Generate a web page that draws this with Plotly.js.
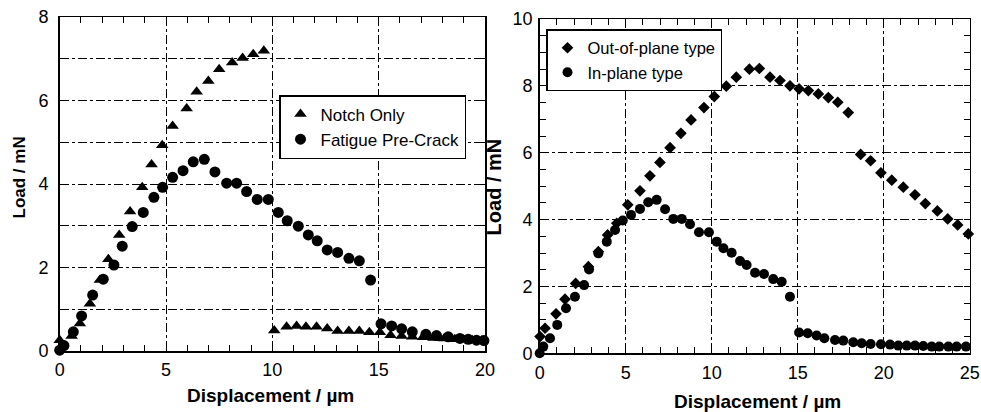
<!DOCTYPE html>
<html>
<head>
<meta charset="utf-8">
<script src="https://cdn.plot.ly/plotly-3.0.1.min.js"></script>
<style>html,body{margin:0;padding:0;background:#fff;}#chart{width:981px;height:412px;}</style>
</head>
<body>
<div id="chart"></div>
<script>
// Left panel: Notch Only (triangles)
const notchX = [0.0, 0.56, 0.95, 1.42, 1.89, 2.29, 2.80, 3.31, 3.88, 4.32, 4.82, 5.31, 5.97, 6.44, 6.99, 7.50, 8.11, 8.60, 9.10, 9.60,
  10.09, 10.67, 11.14, 11.58, 12.08, 12.58, 13.07, 13.60, 14.09, 14.56, 15.06, 15.56, 16.08, 16.58, 17.08, 17.58, 18.08, 18.58, 19.0, 19.4, 19.85];
const notchY = [0.26, 0.36, 0.66, 1.13, 1.70, 2.20, 2.78, 3.34, 3.92, 4.47, 4.93, 5.39, 5.81, 6.21, 6.47, 6.75, 6.91, 7.02, 7.11, 7.19,
  0.49, 0.58, 0.60, 0.58, 0.58, 0.54, 0.48, 0.48, 0.48, 0.45, 0.45, 0.38, 0.36, 0.34, 0.33, 0.31, 0.30, 0.28, 0.27, 0.26, 0.25];

// Left panel: Fatigue Pre-Crack (circles)
const fatigueX = [0.0, 0.2, 0.64, 1.03, 1.55, 2.05, 2.55, 2.94, 3.41, 3.93, 4.43, 4.84, 5.31, 5.80, 6.28, 6.80, 7.30, 7.85, 8.32, 8.79,
  9.29, 9.81, 10.28, 10.70, 11.22, 11.69, 12.11, 12.58, 13.07, 13.60, 14.09, 14.62, 15.11, 15.61, 16.08, 16.58, 17.22, 17.72, 18.27, 18.82, 19.21, 19.60, 19.95];
const fatigueY = [0.02, 0.13, 0.46, 0.84, 1.34, 1.72, 2.06, 2.51, 2.98, 3.32, 3.68, 3.92, 4.16, 4.32, 4.53, 4.59, 4.29, 4.02, 4.02, 3.82,
  3.63, 3.63, 3.32, 3.12, 2.99, 2.78, 2.64, 2.42, 2.36, 2.22, 2.16, 1.70, 0.65, 0.60, 0.53, 0.46, 0.40, 0.37, 0.34, 0.30, 0.28, 0.26, 0.25];

// Right panel: Out-of-plane type (diamonds)
const outX = [0.02, 0.31, 0.95, 1.47, 2.09, 2.83, 3.41, 3.95, 4.48, 5.12, 5.83, 6.41, 6.99, 7.58, 8.21, 8.80, 9.55, 10.15, 10.85, 11.43,
  12.19, 12.77, 13.39, 13.97, 14.55, 15.08, 15.62, 16.20, 16.78, 17.33, 17.94, 18.66, 19.24, 19.84, 20.47, 21.14, 21.82, 22.42, 23.12, 23.72, 24.30, 24.92];
const outY = [0.50, 0.75, 1.18, 1.62, 2.09, 2.59, 3.04, 3.54, 3.89, 4.44, 4.86, 5.31, 5.71, 6.15, 6.58, 6.98, 7.35, 7.68, 7.99, 8.26,
  8.50, 8.52, 8.26, 8.16, 8.00, 7.91, 7.86, 7.76, 7.65, 7.51, 7.20, 5.95, 5.76, 5.40, 5.18, 4.97, 4.74, 4.48, 4.26, 4.02, 3.84, 3.57];

// Right panel: In-plane type (circles)
const inX = [0.0, 0.21, 0.60, 1.02, 1.53, 2.05, 2.58, 2.87, 3.41, 3.90, 4.38, 4.83, 5.31, 5.83, 6.31, 6.80, 7.29, 7.77, 8.26, 8.74,
  9.26, 9.84, 10.29, 10.68, 11.16, 11.65, 12.03, 12.52, 13.04, 13.58, 14.07, 14.55, 15.08, 15.58, 16.10, 16.55, 17.17, 17.65, 18.23, 18.72,
  19.24, 19.84, 20.37, 20.85, 21.34, 21.82, 22.30, 22.79, 23.23, 23.76, 24.24, 24.78];
const inY = [0.0, 0.20, 0.45, 0.85, 1.35, 1.69, 2.04, 2.51, 2.99, 3.34, 3.69, 3.97, 4.14, 4.32, 4.52, 4.59, 4.31, 4.02, 4.02, 3.86,
  3.62, 3.62, 3.34, 3.14, 3.01, 2.76, 2.64, 2.41, 2.37, 2.22, 2.14, 1.69, 0.62, 0.60, 0.53, 0.45, 0.40, 0.38, 0.33, 0.30,
  0.28, 0.27, 0.26, 0.23, 0.23, 0.23, 0.22, 0.20, 0.20, 0.20, 0.20, 0.20];

const FONT = "Arial, 'Liberation Sans', sans-serif";

const traces = [
  {x: notchX, y: notchY, name: 'Notch Only', type: 'scatter', mode: 'markers', xaxis: 'x', yaxis: 'y', legend: 'legend',
   cliponaxis: false, marker: {symbol: 'triangle-up', size: 11, color: '#000'}},
  {x: fatigueX, y: fatigueY, name: 'Fatigue Pre-Crack', type: 'scatter', mode: 'markers', xaxis: 'x', yaxis: 'y', legend: 'legend',
   cliponaxis: false, marker: {symbol: 'circle', size: 11, color: '#000'}},
  {x: outX, y: outY, name: 'Out-of-plane type', type: 'scatter', mode: 'markers', xaxis: 'x2', yaxis: 'y2', legend: 'legend2',
   cliponaxis: false, marker: {symbol: 'diamond', size: 9, color: '#000'}},
  {x: inX, y: inY, name: 'In-plane type', type: 'scatter', mode: 'markers', xaxis: 'x2', yaxis: 'y2', legend: 'legend2',
   cliponaxis: false, marker: {symbol: 'circle', size: 10, color: '#000'}}
];

function axis(extra) {
  return Object.assign({
    showline: true, linecolor: '#000', linewidth: 1.5, mirror: 'allticks',
    ticks: 'inside', ticklen: 6, tickwidth: 1, tickcolor: '#000',
    showgrid: true, gridcolor: '#000', gridwidth: 1, griddash: 'dashdot',
    zeroline: false, tickfont: {family: FONT, size: 18, color: '#000'},
    fixedrange: true
  }, extra);
}

const layout = {
  width: 981, height: 412,
  margin: {l: 0, r: 0, t: 0, b: 0},
  paper_bgcolor: '#fff', plot_bgcolor: '#fff',
  font: {family: FONT, color: '#000'},
  showlegend: true,
  xaxis: axis({domain: [59.7/981, 485/981], range: [0, 20], tick0: 0, dtick: 5, anchor: 'y', ticklabelstandoff: 2,
    minor: {dtick: 1, ticks: 'inside', ticklen: 6, tickcolor: '#000', showgrid: false}}),
  yaxis: axis({domain: [61/412, 395/412], range: [0, 8], tick0: 0, dtick: 2, anchor: 'x', ticklabelstandoff: 6,
    minor: {dtick: 1, ticks: 'inside', ticklen: 6, tickcolor: '#000', showgrid: true, gridcolor: '#000', gridwidth: 1, griddash: 'dashdot'}}),
  xaxis2: axis({domain: [539.7/981, 969.7/981], range: [0, 25], tick0: 0, dtick: 5, anchor: 'y2', ticklabelstandoff: 3,
    minor: {dtick: 1, ticks: 'inside', ticklen: 6, tickcolor: '#000', showgrid: false}}),
  yaxis2: axis({domain: [58.7/412, 393/412], range: [0, 10], tick0: 0, dtick: 2, anchor: 'x2', ticklabelstandoff: 2,
    minor: {dtick: 0.5, ticks: 'inside', ticklen: 6, tickcolor: '#000', showgrid: false}}),
  legend: {x: 279/981, y: (412-95)/412, xanchor: 'left', yanchor: 'top', bgcolor: '#fff',
    bordercolor: '#000', borderwidth: 1.5, font: {family: FONT, size: 17, color: '#000'}},
  legend2: {x: 546/981, y: (412-29)/412, xanchor: 'left', yanchor: 'top', bgcolor: '#fff',
    bordercolor: '#000', borderwidth: 1.5, font: {family: FONT, size: 16.5, color: '#000'}},
  annotations: [
    {text: '<b>Displacement / µm</b>', xref: 'paper', yref: 'paper', x: 270/981, y: (412-395)/412,
     xanchor: 'center', yanchor: 'middle', showarrow: false, font: {family: FONT, size: 19, color: '#000'}},
    {text: '<b>Displacement / µm</b>', xref: 'paper', yref: 'paper', x: 757/981, y: (412-401)/412,
     xanchor: 'center', yanchor: 'middle', showarrow: false, font: {family: FONT, size: 19, color: '#000'}},
    {text: '<b>Load / mN</b>', xref: 'paper', yref: 'paper', x: 19/981, y: (412-177.5)/412, textangle: -90,
     xanchor: 'center', yanchor: 'middle', showarrow: false, font: {family: FONT, size: 17, color: '#000'}},
    {text: '<b>Load / mN</b>', xref: 'paper', yref: 'paper', x: 493.7/981, y: (412-186.7)/412, textangle: -90,
     xanchor: 'center', yanchor: 'middle', showarrow: false, font: {family: FONT, size: 20, color: '#000'}}
  ]
};

Plotly.newPlot('chart', traces, layout, {displayModeBar: false, staticPlot: true});
</script>
</body>
</html>
